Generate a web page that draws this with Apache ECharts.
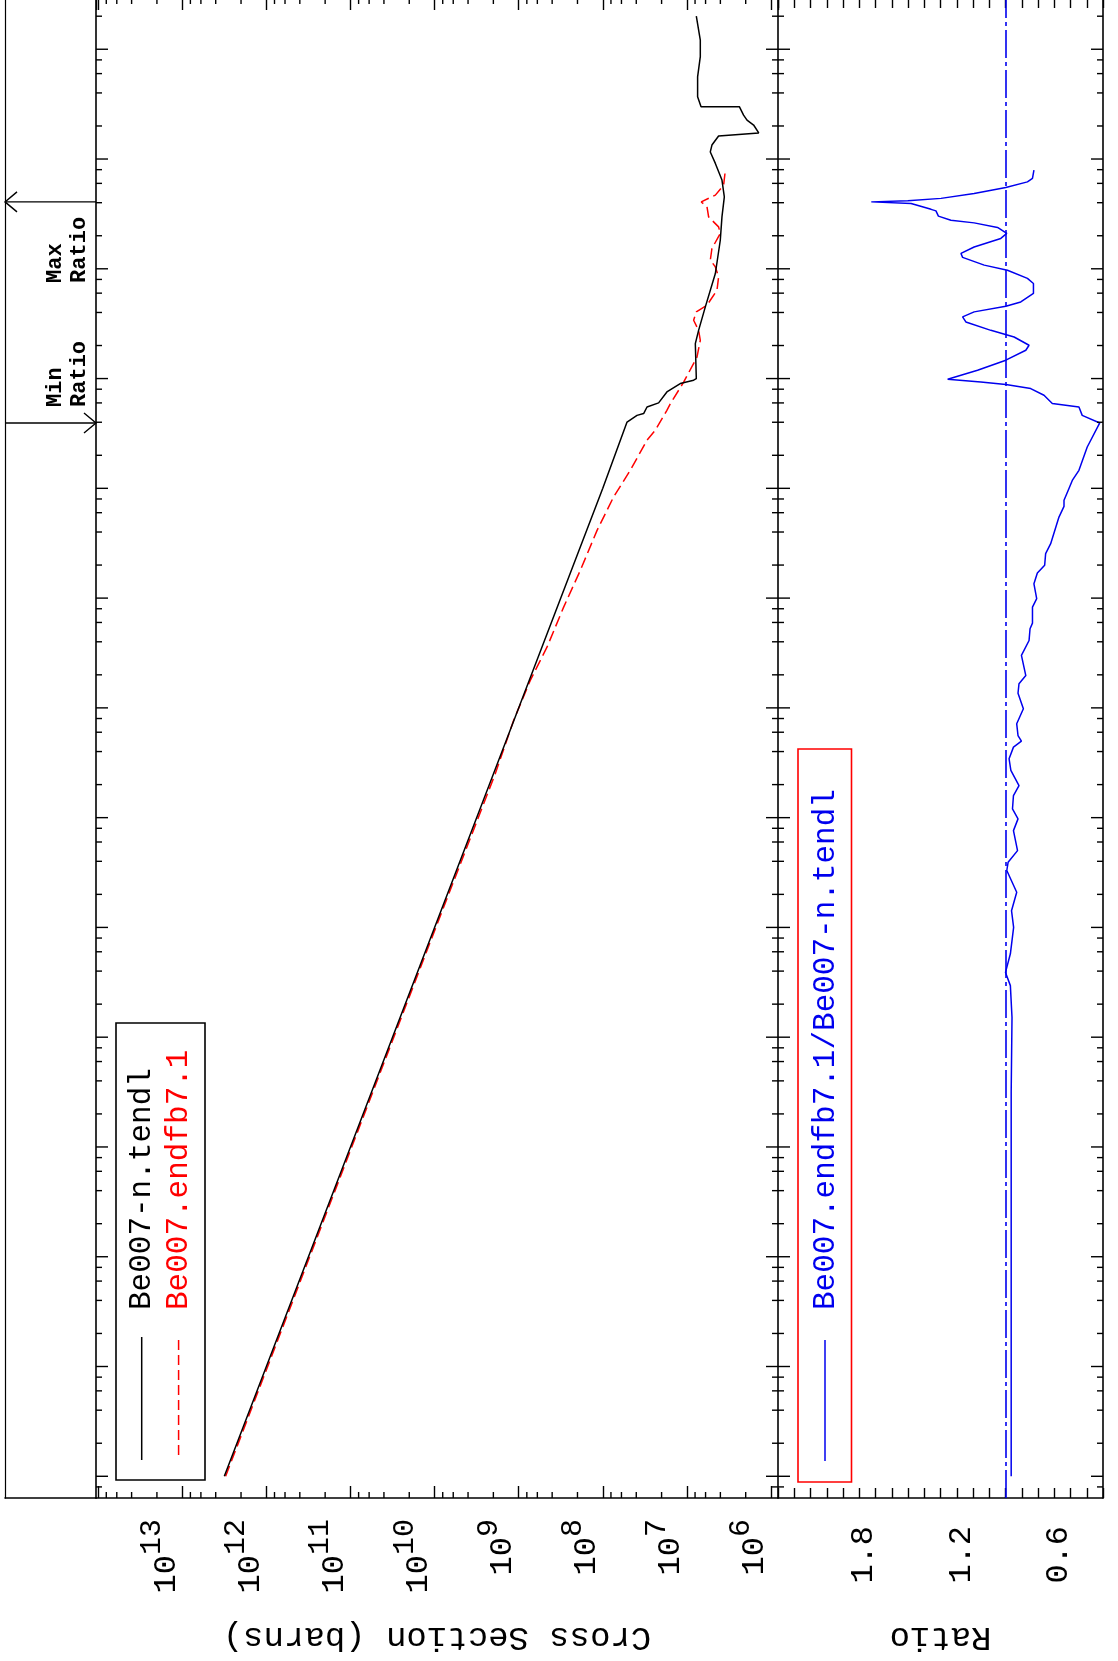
<!DOCTYPE html>
<html>
<head>
<meta charset="utf-8">
<script src="https://cdn.jsdelivr.net/npm/echarts@6/dist/echarts.min.js"></script>
<style>
html,body{margin:0;padding:0;background:#ffffff;}
#chart{width:1118px;height:1661px;}
</style>
</head>
<body>
<div id="chart"></div>
<script>
// ---------------- data ----------------
// Be007-n.tendl : energy (eV) and cross section (barns)
const tendlEnergy = [1e-5, 1e-3, 1e-1, 10, 1e3, 1e4, 4.02e4, 4.62e4, 4.80e4, 5.51e4, 6.0e4, 7.55e4, 9.0e4, 9.66e4, 1.0e5,
  2.08e5, 2.75e5, 4.50e5, 9.06e5, 1.82e6, 2.97e6, 4.52e6, 6.43e6, 9.12e6, 1.16e7, 1.34e7, 1.62e7, 1.73e7, 2.04e7,
  2.26e7, 2.51e7, 3.0e7, 3.0e7, 3.69e7, 5.61e7, 8.55e7, 1.21e8, 2.0e8];
const tendlXs = [3.16e12, 3.16e11, 3.16e10, 3.16e9, 3.16e8, 1.0e8, 5.15e7, 3.92e7, 3.27e7, 2.98e7, 2.17e7, 1.73e7, 1.20e7, 8.32e6, 7.73e6,
  7.94e6, 7.26e6, 6.04e6, 4.59e6, 4.01e6, 3.83e6, 3.59e6, 3.83e6, 4.59e6, 5.27e6, 5.04e6, 4.20e6, 1.40e6, 1.61e6,
  1.93e6, 2.12e6, 2.38e6, 6.79e6, 7.46e6, 7.46e6, 6.93e6, 6.93e6, 7.73e6];

// Be007.endfb7.1
const endfEnergy = [1e-5, 1, 25.1, 76.7, 178, 357, 828, 1790, 4140, 8340, 1.46e4, 2.74e4, 3.38e4, 5.14e4, 5.92e4, 9.31e4,
  1.57e5, 2.23e5, 2.75e5, 3.40e5, 4.05e5, 4.66e5, 6.38e5, 8.43e5, 1.04e6, 1.20e6, 1.53e6, 2.10e6, 2.41e6, 2.97e6,
  3.66e6, 4.07e6, 4.69e6, 5.78e6, 7.93e6];
const endfXs = [3.05e12, 9.66e9, 1.90e9, 1.15e9, 7.28e8, 4.61e8, 2.92e8, 1.85e8, 1.17e8, 7.45e7, 4.71e7, 2.99e7, 2.38e7, 1.73e7, 1.57e7, 1.09e7,
  7.59e6, 6.93e6, 7.26e6, 8.32e6, 7.73e6, 5.77e6, 4.39e6, 4.20e6, 4.59e6, 5.27e6, 5.04e6, 4.01e6, 4.20e6, 5.52e6,
  5.77e6, 6.75e6, 4.59e6, 3.66e6, 3.49e6];

// ratio endfb7.1 / tendl
const ratioEnergy = [1e-5, 1e-3, 0.0316, 0.151, 0.295, 0.389, 0.575, 1.0, 1.42, 2.09, 3.30, 3.92, 5.01, 7.62, 9.75, 12.0,
  15.9, 19.6, 26.9, 34.4, 43.9, 49.7, 56.0, 71.6, 98.2, 136, 166, 197, 301, 411, 526, 592, 828, 989, 1350, 1690, 1990,
  2540, 3130, 5470, 6850, 7780, 9930, 1.18e4, 1.46e4, 2.38e4, 3.94e4, 4.62e4, 5.51e4, 5.92e4, 7.05e4, 8.11e4, 8.81e4,
  9.31e4, 9.86e4, 1.19e5, 1.47e5, 1.81e5, 2.01e5, 2.39e5, 2.75e5, 3.28e5, 3.65e5, 4.05e5, 4.56e5, 4.99e5, 5.96e5,
  7.35e5, 8.17e5, 9.70e5, 1.08e6, 1.27e6, 1.38e6, 1.58e6, 1.89e6, 2.10e6, 2.38e6, 2.62e6, 2.77e6, 3.02e6, 3.37e6,
  3.48e6, 3.94e6, 4.07e6, 4.16e6, 4.38e6, 4.85e6, 5.51e6, 6.19e6, 6.65e6, 7.93e6];
const ratioValue = [0.965, 0.965, 0.965, 0.96, 0.97, 1.0, 0.97, 0.95, 0.963, 0.931, 0.992, 0.984, 0.926, 0.951, 0.923, 0.957,
  0.951, 0.917, 0.967, 0.978, 0.951, 0.902, 0.923, 0.931, 0.890, 0.923, 0.917, 0.875, 0.902, 0.855, 0.849, 0.834, 0.834, 0.808, 0.825, 0.804, 0.759,
  0.753, 0.722, 0.671, 0.640, 0.640, 0.610, 0.589, 0.548, 0.497, 0.420, 0.528, 0.548, 0.712, 0.763, 0.845, 0.998,
  1.152, 1.356, 1.172, 0.998, 0.875, 0.855, 0.947, 1.090, 1.244, 1.264, 1.193, 0.998, 0.906, 0.828,
  0.828, 0.865, 0.988, 1.131, 1.264, 1.274, 1.193, 1.029, 0.992, 1.049, 1.193, 1.336, 1.413, 1.428,
  1.458, 1.581, 1.826, 1.601, 1.397, 1.193, 0.998, 0.865, 0.834, 0.825];

// reference ratio line
const ratioReference = [1.0];

// energies of the extreme ratios (annotation arrows) and their labels
const extremaEnergy = [4.07e6, 3.94e4];
const extremaLabel = ['Max\nRatio', 'Min\nRatio'];

// tick definitions
const xsLabelExponents = [6, 7, 8, 9, 10, 11, 12, 13];
const ratioTickLabels = [0.6, 1.2, 1.8];
const energyDecades = [-6, -5, -4, -3, -2, -1, 0, 1, 2, 3, 4, 5, 6, 7, 8];
const xsDecades = [5, 6, 7, 8, 9, 10, 11, 12, 13, 14];
const minorMultipliers = [2, 4, 6, 8];

const legendNames = ['Be007-n.tendl', 'Be007.endfb7.1', 'Be007.endfb7.1/Be007-n.tendl'];
const xsAxisTitle = 'Cross Section (barns)';
const ratioAxisTitle = 'Ratio';

// ---------------- axis ranges ----------------
const E_MIN = 6.34e-6, E_MAX = 2.93e8;
const XS_MIN = 8.26e5, XS_MAX = 1.06e14;
const R_MIN = 0.4, R_MAX = 2.4;
const XS_REF = 1e10, R_REF = 1.0;

const FONT = 'Liberation Mono';
const BLACK = '#000000', RED = '#ff0000', BLUE = '#0000ee';

// ---------------- derived tick lists ----------------
const energyTicks = [];
energyDecades.forEach(function (d) {
  const major = Math.pow(10, d);
  if (major >= E_MIN && major <= E_MAX) energyTicks.push([major, 1]);
  minorMultipliers.forEach(function (m) {
    const v = m * Math.pow(10, d);
    if (v >= E_MIN && v <= E_MAX) energyTicks.push([v, 0]);
  });
});
const xsMinorTicks = [];
xsDecades.forEach(function (d) {
  minorMultipliers.forEach(function (m) {
    const v = m * Math.pow(10, d);
    if (v >= XS_MIN && v <= XS_MAX) xsMinorTicks.push(v);
  });
});

// ---------------- render helpers ----------------
const tickStyle = { stroke: BLACK, lineWidth: 1.4 };

function energyTickRenderer(leftInward, rightInward, refX) {
  return function (params, api) {
    const cs = params.coordSys;
    const y = api.coord([refX, api.value(1)])[1];
    const len = api.value(2) ? 12 : 6;
    const ch = [];
    if (leftInward) ch.push({ type: 'line', shape: { x1: cs.x, y1: y, x2: cs.x + len, y2: y }, style: tickStyle });
    if (rightInward) ch.push({ type: 'line', shape: { x1: cs.x + cs.width - len, y1: y, x2: cs.x + cs.width, y2: y }, style: tickStyle });
    return { type: 'group', children: ch };
  };
}

function xsMinorRenderer(params, api) {
  const cs = params.coordSys;
  const x = api.coord([api.value(0), api.value(1)])[0];
  const len = 6;
  return {
    type: 'group', children: [
      { type: 'line', shape: { x1: x, y1: cs.y + cs.height, x2: x, y2: cs.y + cs.height - len }, style: tickStyle },
      { type: 'line', shape: { x1: x, y1: cs.y, x2: x, y2: cs.y + len }, style: tickStyle }
    ]
  };
}

function arrowRenderer(params, api) {
  const cs = params.coordSys;
  const y = api.coord([api.value(0), api.value(1)])[1];
  const isMax = api.value(2) === 0;
  const x0 = cs.x, x1 = cs.x + cs.width;
  const head = isMax
    ? [[x0 + 12, y - 10], [x0, y], [x0 + 12, y + 10]]
    : [[x1 - 12, y - 10], [x1, y], [x1 - 12, y + 10]];
  const textY = isMax ? y + 81 : y - 16;
  return {
    type: 'group', children: [
      { type: 'line', shape: { x1: x0, y1: y, x2: x1, y2: y }, style: { stroke: BLACK, lineWidth: 1.4 } },
      { type: 'polyline', shape: { points: head }, style: { stroke: BLACK, lineWidth: 1.4, fill: null } },
      {
        type: 'text', x: 43, y: textY, rotation: Math.PI / 2,
        style: {
          text: extremaLabel[params.dataIndex], fill: BLACK,
          font: 'bold 22px "' + FONT + '"', lineHeight: 24,
          textAlign: 'left', textVerticalAlign: 'top', align: 'left', verticalAlign: 'top'
        }
      }
    ]
  };
}

function zip(a, b) { return a.map(function (v, i) { return [v, b[i]]; }); }

// ---------------- axes ----------------
const energyAxisBase = {
  type: 'log', logBase: 10, min: E_MIN, max: E_MAX,
  axisLine: { show: true, onZero: false, lineStyle: { color: BLACK, width: 1.6 } },
  axisTick: { show: false }, axisLabel: { show: false }, splitLine: { show: false }, minorTick: { show: false }
};

const xsAxisBase = {
  type: 'log', logBase: 10, min: XS_MIN, max: XS_MAX, inverse: true,
  axisLine: { show: true, onZero: false, lineStyle: { color: BLACK, width: 1.6 } },
  axisTick: { show: true, inside: true, length: 12, lineStyle: { color: BLACK, width: 1.4 } },
  splitLine: { show: false }
};

const ratioAxisBase = {
  type: 'value', min: R_MIN, max: R_MAX, interval: 0.1, inverse: true,
  axisLine: { show: true, onZero: false, lineStyle: { color: BLACK, width: 1.6 } },
  axisTick: { show: true, inside: true, length: 10, lineStyle: { color: BLACK, width: 1.4 } },
  splitLine: { show: false }
};

const option = {
  animation: false,
  backgroundColor: '#ffffff',
  grid: [
    { left: 96, top: -2, width: 682, height: 1500, outerBoundsMode: 'none', containLabel: false },
    { left: 778, top: -2, width: 325, height: 1500, outerBoundsMode: 'none', containLabel: false },
    { left: 5, top: -2, width: 91, height: 1500, outerBoundsMode: 'none', containLabel: false }
  ],
  xAxis: [
    Object.assign({}, xsAxisBase, {
      gridIndex: 0, position: 'bottom',
      axisLabel: {
        show: true, rotate: 90, margin: 21, verticalAlign: 'bottom',
        showMinLabel: false, showMaxLabel: false,
        formatter: function (v) {
          const e = Math.round(Math.log10(v));
          if (Math.abs(Math.log10(v) - e) > 1e-6 || xsLabelExponents.indexOf(e) < 0) return '';
          return '{b|10}{s|' + e + '}';
        },
        rich: {
          b: { fontFamily: FONT, fontSize: 32, lineHeight: 11, verticalAlign: 'bottom', color: BLACK },
          s: { fontFamily: FONT, fontSize: 30, lineHeight: 45, verticalAlign: 'top', color: BLACK }
        }
      },
      name: xsAxisTitle, nameLocation: 'middle', nameRotate: 180, nameGap: 122,
      nameTextStyle: { fontFamily: FONT, fontSize: 34, color: BLACK }
    }),
    Object.assign({}, xsAxisBase, { gridIndex: 0, position: 'top', axisLabel: { show: false } }),
    Object.assign({}, ratioAxisBase, {
      gridIndex: 1, position: 'bottom',
      axisLabel: {
        show: true, rotate: 90, margin: 28, verticalAlign: 'bottom', lineHeight: 23,
        fontFamily: FONT, fontSize: 32, color: BLACK,
        formatter: function (v) {
          for (let i = 0; i < ratioTickLabels.length; i++) {
            if (Math.abs(v - ratioTickLabels[i]) < 1e-6) return ratioTickLabels[i].toFixed(1);
          }
          return '';
        }
      },
      name: ratioAxisTitle, nameLocation: 'middle', nameRotate: 180, nameGap: 122,
      nameTextStyle: { fontFamily: FONT, fontSize: 34, color: BLACK }
    }),
    Object.assign({}, ratioAxisBase, { gridIndex: 1, position: 'top', axisLabel: { show: false } }),
    {
      type: 'value', gridIndex: 2, min: 0, max: 1, position: 'bottom',
      axisLine: { show: true, onZero: false, lineStyle: { color: BLACK, width: 1.6 } },
      axisTick: { show: false }, axisLabel: { show: false }, splitLine: { show: false }
    }
  ],
  yAxis: [
    Object.assign({}, energyAxisBase, { gridIndex: 0, position: 'left' }),
    Object.assign({}, energyAxisBase, { gridIndex: 1, position: 'left' }),
    Object.assign({}, energyAxisBase, { gridIndex: 1, position: 'right' }),
    Object.assign({}, energyAxisBase, { gridIndex: 2, position: 'left', axisLine: { show: true, onZero: false, lineStyle: { color: BLACK, width: 1.2 } } })
  ],
  series: [
    {
      name: legendNames[1], type: 'line', xAxisIndex: 0, yAxisIndex: 0,
      data: zip(endfXs, endfEnergy), showSymbol: false, symbol: 'none', z: 3,
      lineStyle: { color: RED, width: 1.5, type: [11, 5] }
    },
    {
      name: legendNames[0], type: 'line', xAxisIndex: 0, yAxisIndex: 0,
      data: zip(tendlXs, tendlEnergy), showSymbol: false, symbol: 'none', z: 4,
      lineStyle: { color: BLACK, width: 1.5 }
    },
    {
      name: legendNames[2], type: 'line', xAxisIndex: 2, yAxisIndex: 1,
      data: zip(ratioValue, ratioEnergy), showSymbol: false, symbol: 'none', z: 4,
      lineStyle: { color: BLUE, width: 1.5 },
      markLine: {
        silent: true, symbol: 'none', label: { show: false },
        lineStyle: { color: BLUE, width: 1.6, type: [28, 4, 4, 4] },
        data: ratioReference.map(function (r) { return { xAxis: r }; })
      }
    },
    {
      type: 'custom', xAxisIndex: 0, yAxisIndex: 0, silent: true, z: 5,
      renderItem: energyTickRenderer(true, true, XS_REF),
      encode: { x: 0, y: 1 },
      data: energyTicks.map(function (t) { return [XS_REF, t[0], t[1]]; })
    },
    {
      type: 'custom', xAxisIndex: 2, yAxisIndex: 1, silent: true, z: 5,
      renderItem: energyTickRenderer(true, true, R_REF),
      encode: { x: 0, y: 1 },
      data: energyTicks.map(function (t) { return [R_REF, t[0], t[1]]; })
    },
    {
      type: 'custom', xAxisIndex: 0, yAxisIndex: 0, silent: true, z: 5,
      renderItem: xsMinorRenderer,
      encode: { x: 0, y: 1 },
      data: xsMinorTicks.map(function (v) { return [v, 1]; })
    },
    {
      type: 'custom', xAxisIndex: 4, yAxisIndex: 3, silent: true, z: 5,
      renderItem: arrowRenderer,
      encode: { x: 0, y: 1 },
      data: extremaEnergy.map(function (e, i) { return [0.5, e, i]; })
    }
  ],
  graphic: [
    // cross-section legend
    { type: 'rect', shape: { x: 116, y: 1023, width: 89, height: 457 }, style: { fill: null, stroke: BLACK, lineWidth: 1.6 }, silent: true },
    { type: 'line', shape: { x1: 141.7, y1: 1337, x2: 141.7, y2: 1460 }, style: { stroke: BLACK, lineWidth: 1.5 }, silent: true },
    { type: 'line', shape: { x1: 178.6, y1: 1340, x2: 178.6, y2: 1460 }, style: { stroke: RED, lineWidth: 1.5, lineDash: [10, 5] }, silent: true },
    {
      type: 'text', x: 141.7, y: 1310, rotation: Math.PI / 2, silent: true,
      style: { text: legendNames[0], fill: BLACK, font: '31px "' + FONT + '"', textAlign: 'left', textVerticalAlign: 'middle', align: 'left', verticalAlign: 'middle' }
    },
    {
      type: 'text', x: 178.6, y: 1310, rotation: Math.PI / 2, silent: true,
      style: { text: legendNames[1], fill: RED, font: '31px "' + FONT + '"', textAlign: 'left', textVerticalAlign: 'middle', align: 'left', verticalAlign: 'middle' }
    },
    // ratio legend
    { type: 'rect', shape: { x: 798, y: 749, width: 53.5, height: 733 }, style: { fill: null, stroke: RED, lineWidth: 1.6 }, silent: true },
    { type: 'line', shape: { x1: 825, y1: 1340, x2: 825, y2: 1461 }, style: { stroke: BLUE, lineWidth: 1.5 }, silent: true },
    {
      type: 'text', x: 826, y: 1310, rotation: Math.PI / 2, silent: true,
      style: { text: legendNames[2], fill: BLUE, font: '31px "' + FONT + '"', textAlign: 'left', textVerticalAlign: 'middle', align: 'left', verticalAlign: 'middle' }
    }
  ]
};

const chart = echarts.init(document.getElementById('chart'), null, { renderer: 'canvas', width: 1118, height: 1661 });
chart.setOption(option);
</script>
</body>
</html>
